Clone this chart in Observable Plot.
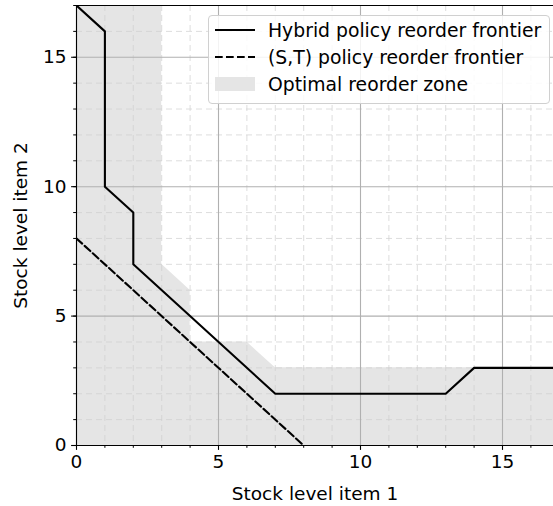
<!DOCTYPE html>
<html>
<head>
<meta charset="utf-8">
<script src="https://cdn.jsdelivr.net/npm/d3@7"></script>
<script src="https://cdn.jsdelivr.net/npm/@observablehq/plot@0.6"></script>
<style>
  html, body { margin: 0; padding: 0; background: #fff; }
  #wrap { position: relative; width: 553px; height: 506px; overflow: hidden; font-family: "DejaVu Sans", sans-serif; }
  #legend { position: absolute; left: 208px; top: 15px; width: 342px; height: 89px;
    border: 1px solid #d0d0d0; border-radius: 4px; background: rgba(255,255,255,0.85); box-sizing: border-box; }
  .row { position: absolute; left: 0; height: 20px; display: flex; align-items: center; font-size: 18.8px; color: #000; white-space: nowrap; }
  .row svg { margin-left: 6px; margin-right: 13px; }
</style>
</head>
<body>
<div id="wrap"></div>
<script>
// Data
const hybridX = [0, 1, 1, 2, 2, 7, 13, 14, 17];
const hybridY = [17, 16, 10, 9, 7, 2, 2, 3, 3];
const stX = [0, 8];
const stY = [8, 0];
const zoneX = [0, 3, 3, 4, 4, 6, 7, 17];
const zoneY = [17, 17, 7, 6, 4, 4, 3, 3];
const majorTicks = [0, 5, 10, 15];
const minorTicks = d3.range(0, 18);
const legendLabels = ["Hybrid policy reorder frontier", "(S,T) policy reorder frontier", "Optimal reorder zone"];
const xLabel = "Stock level item 1";
const yLabel = "Stock level item 2";

const hybrid = hybridX.map((x, i) => ({x, y: hybridY[i]}));
const st = stX.map((x, i) => ({x, y: stY[i]}));
const zone = zoneX.map((x, i) => ({x, y: zoneY[i]}));

const W = 553, H = 506;
const mL = 76, mT = 5, mB = 61, mR = 0;
const xMax = (W - mL - mR) / 28.4;

const chart = Plot.plot({
  width: W,
  height: H,
  marginLeft: mL,
  marginTop: mT,
  marginBottom: mB,
  marginRight: mR,
  style: {fontFamily: "DejaVu Sans, sans-serif", fontSize: "18.5px", color: "#000", background: "#fff", overflow: "visible"},
  x: {domain: [0, xMax], label: null},
  y: {domain: [0, 17], label: null},
  marks: [
    Plot.areaY(zone, {x: "x", y1: 0, y2: "y", fill: "#e5e5e5", clip: true}),
    Plot.gridX(minorTicks.filter(d => d % 5 !== 0), {stroke: "#cfcfcf", strokeOpacity: 0.7, strokeDasharray: "6,4", strokeWidth: 1}),
    Plot.gridY(minorTicks.filter(d => d % 5 !== 0), {stroke: "#cfcfcf", strokeOpacity: 0.7, strokeDasharray: "6,4", strokeWidth: 1}),
    Plot.gridX(majorTicks, {stroke: "#b0b0b0", strokeOpacity: 1, strokeWidth: 1.1}),
    Plot.gridY(majorTicks, {stroke: "#b0b0b0", strokeOpacity: 1, strokeWidth: 1.1}),
    Plot.line(hybrid, {x: "x", y: "y", stroke: "#000", strokeWidth: 2.1, clip: true}),
    Plot.line(st, {x: "x", y: "y", stroke: "#000", strokeWidth: 2.1, strokeDasharray: "7.7,3.3", clip: true}),
    Plot.axisX(minorTicks, {tickSize: 2.8, text: null, stroke: "#000", strokeWidth: 1}),
    Plot.axisY(minorTicks, {tickSize: 2.8, text: null, stroke: "#000", strokeWidth: 1}),
    Plot.axisX(majorTicks, {tickSize: 4.9, tickPadding: 4, stroke: "#000", strokeWidth: 1.1, fontSize: 18.5,
      label: xLabel, labelAnchor: "center", labelArrow: "none", labelOffset: 54}),
    Plot.axisY(majorTicks, {tickSize: 4.9, tickPadding: 5, stroke: "#000", strokeWidth: 1.1, fontSize: 18.5,
      label: yLabel, labelAnchor: "center", labelArrow: "none", labelOffset: 63}),
    Plot.ruleX([0], {stroke: "#000", strokeWidth: 1.1}),
    Plot.ruleY([0], {stroke: "#000", strokeWidth: 1.1}),
    Plot.ruleY([17], {stroke: "#000", strokeWidth: 1.1})
  ]
});

const wrap = document.getElementById("wrap");
wrap.appendChild(chart);

const legend = document.createElement("div");
legend.id = "legend";
const rowTops = [4, 31, 58];
const swatches = [
  `<svg width="40" height="20"><line x1="0" y1="10" x2="40" y2="10" stroke="#000" stroke-width="2.1"/></svg>`,
  `<svg width="40" height="20"><line x1="0" y1="10" x2="40" y2="10" stroke="#000" stroke-width="2.1" stroke-dasharray="7.7,3.3"/></svg>`,
  `<svg width="40" height="20"><rect x="0" y="3" width="40" height="14" fill="#e5e5e5"/></svg>`
];
legendLabels.forEach((lab, i) => {
  const r = document.createElement("div");
  r.className = "row";
  r.style.top = rowTops[i] + "px";
  r.innerHTML = swatches[i] + `<span>${lab}</span>`;
  legend.appendChild(r);
});
wrap.appendChild(legend);
</script>
</body>
</html>
